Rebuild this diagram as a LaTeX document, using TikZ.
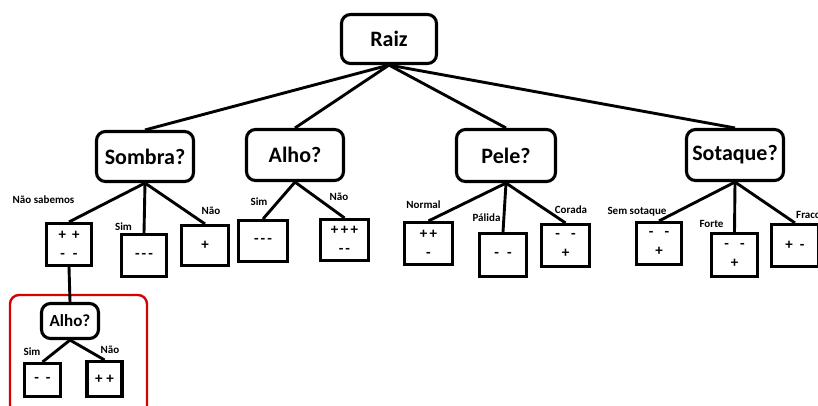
\documentclass[tikz,border=0pt]{standalone}
\usepackage{fontspec}
\setmainfont{Carlito}
\begin{document}
\begin{tikzpicture}[x=1pt,y=-1pt,
  qbox/.style={draw, line width=3.1pt, rounded corners=9pt, inner sep=0pt,
    font=\fontsize{22}{24}\selectfont\bfseries},
  leaf/.style={draw, line width=3.1pt, inner sep=0pt, align=center,
    font=\fontsize{15}{19}\selectfont\bfseries},
  lab/.style={inner sep=0pt, font=\fontsize{11}{13}\selectfont\bfseries},
  edge/.style={line width=2.9pt}]
\useasboundingbox (0,0) rectangle (818,405);
\clip (0,0) rectangle (818,405);
\fill[white] (0,0) rectangle (818,405);

% decision nodes
\node[qbox, minimum width=95pt, minimum height=49pt] (raiz) at (389,39) {Raiz};
\node[qbox, minimum width=97pt, minimum height=50pt] (sombra) at (145,156.5) {Sombra?};
\node[qbox, minimum width=97pt, minimum height=51pt] (alho) at (295,155) {Alho?};
\node[qbox, minimum width=99pt, minimum height=52pt] (pele) at (506,155.5) {Pele?};
\node[qbox, minimum width=97pt, minimum height=51pt] (sotaque) at (735,155) {Sotaque?};

% leaves
\node[leaf, minimum width=45pt, minimum height=42pt] (s1) at (69,244.5) {+\hspace{6pt}+\\-\hspace{8pt}-};
\node[leaf, minimum width=45pt, minimum height=42pt] (s2) at (144,255.5) {-\hspace{2pt}-\hspace{2pt}-};
\node[leaf, minimum width=47pt, minimum height=40pt] (s3) at (205,245.5) {+};
\node[leaf, minimum width=49pt, minimum height=41pt] (a1) at (263,241) {-\hspace{2pt}-\hspace{2pt}-};
\node[leaf, minimum width=48pt, minimum height=41pt] (a2) at (344.5,240) {+\,+\,+\\-\hspace{2pt}-};
\node[leaf, minimum width=48pt, minimum height=42pt] (p1) at (428.5,243.5) {+\,+\\-};
\node[leaf, minimum width=47pt, minimum height=43pt] (p2) at (503,255) {-\hspace{8pt}-};
\node[leaf, minimum width=48pt, minimum height=42pt] (p3) at (565.5,245.5) {-\hspace{11pt}-\\+};
\node[leaf, minimum width=45pt, minimum height=42pt] (t1) at (659,243.5) {-\hspace{11pt}-\\+};
\node[leaf, minimum width=46pt, minimum height=43pt] (t2) at (734.5,255) {-\hspace{11pt}-\\+};
\node[leaf, minimum width=47pt, minimum height=42pt] (t3) at (795,245.5) {+\hspace{7pt}-};

% sub-tree
\node[qbox, minimum width=57pt, minimum height=35pt,
  font=\fontsize{17}{19}\selectfont\bfseries] (alho2) at (70,321) {Alho?};
\node[leaf, minimum width=36pt, minimum height=33pt] (b1) at (42.5,380) {-\hspace{7pt}-};
\node[leaf, minimum width=35pt, minimum height=35pt] (b2) at (104.5,379) {+\hspace{4pt}+};
\draw[red!85!black, line width=2.4pt, rounded corners=9pt] (10,295) rectangle (147,420);

% connectors
\foreach \c in {sombra,alho,pele,sotaque} \draw[edge] (raiz.south) -- (\c.north);
\foreach \c in {s1,s2,s3} \draw[edge] (sombra.south) -- (\c.north);
\foreach \c in {a1,a2} \draw[edge] (alho.south) -- (\c.north);
\foreach \c in {p1,p2,p3} \draw[edge] (pele.south) -- (\c.north);
\foreach \c in {t1,t2,t3} \draw[edge] (sotaque.south) -- (\c.north);
\draw[edge] (s1.south) -- (alho2.north);
\foreach \c in {b1,b2} \draw[edge] (alho2.south) -- (\c.north);

% edge labels
\node[lab] (l1) at (43.5,200) {Não sabemos};
\node[lab] (l2) at (123.5,227) {Sim};
\node[lab] (l3) at (211,211) {Não};
\node[lab] (l4) at (259,202) {Sim};
\node[lab] (l5) at (339,197) {Não};
\node[lab] (l6) at (423.5,205) {Normal};
\node[lab] (l7) at (486.5,218) {Pálida};
\node[lab] (l8) at (571,210) {Corada};
\node[lab] (l9) at (637,212) {Sem sotaque};
\node[lab] (l10) at (711.5,224) {Forte};
\node[lab, anchor=west] (l11) at (796,215) {Fraco};
\node[lab] (l12) at (32,352) {Sim};
\node[lab] (l13) at (110,350) {Não};
\end{tikzpicture}
\end{document}
